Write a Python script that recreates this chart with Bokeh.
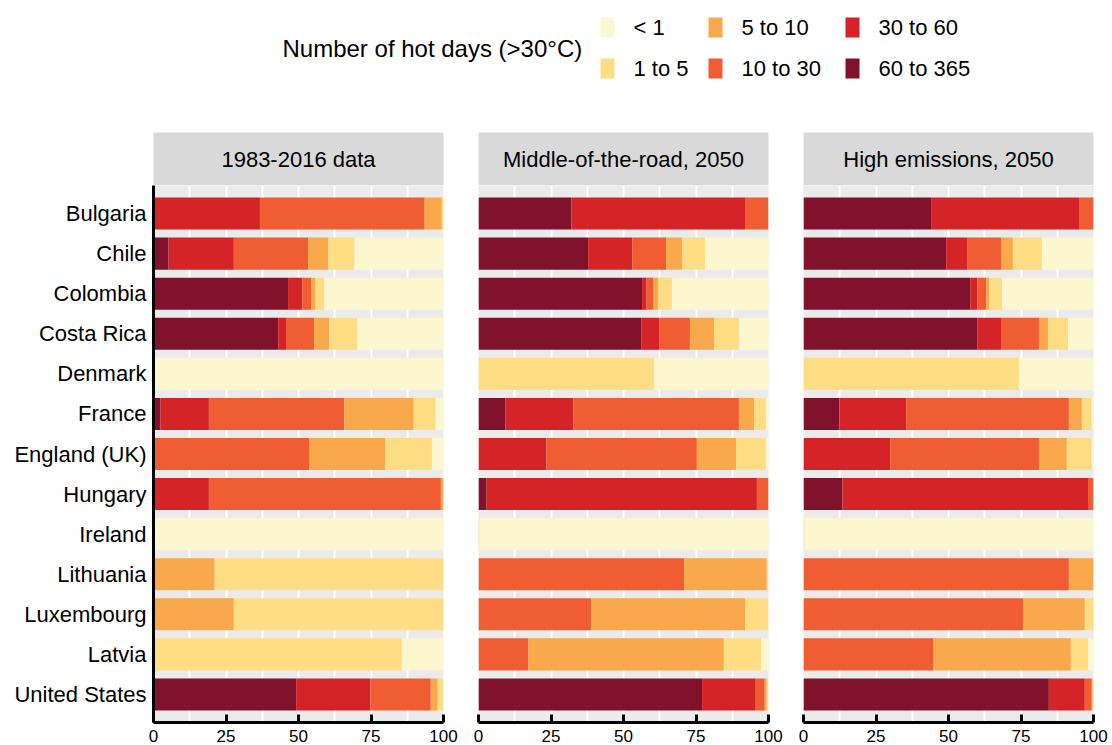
from bokeh.plotting import figure
from bokeh.models import Range1d, FactorRange, FixedTicker, ColumnDataSource
from bokeh.layouts import column, row
from bokeh.core.properties import value
from bokeh.embed import file_html
from bokeh.resources import INLINE

FONT = "Liberation Sans"

countries = ["Bulgaria", "Chile", "Colombia", "Costa Rica", "Denmark", "France",
             "England (UK)", "Hungary", "Ireland", "Lithuania", "Luxembourg",
             "Latvia", "United States"]

# stacking order (left to right)
categories = ["60 to 365", "30 to 60", "10 to 30", "5 to 10", "1 to 5", "< 1"]
colors = ["#80132B", "#D42428", "#F05D33", "#F9A94B", "#FEDD85", "#FCF7CF"]

panel_titles = ["1983-2016 data", "Middle-of-the-road, 2050", "High emissions, 2050"]
legend_title = "Number of hot days (>30\u00b0C)"
x_ticks = [0, 25, 50, 75, 100]
x_minor = [12.5, 37.5, 62.5, 87.5]

# ---- 1983-2016 data (% of population) ----
hist_60_365 = [0, 5.2, 46.4, 43.0, 0, 2.4, 0, 0, 0, 0, 0, 0, 49.2]
hist_30_60 = [36.7, 22.5, 4.9, 2.7, 0, 16.7, 0, 19.1, 0, 0, 0, 0, 25.6]
hist_10_30 = [56.8, 25.6, 3.1, 9.7, 0, 46.7, 53.7, 80.0, 0, 0, 0, 0, 20.8]
hist_5_10 = [5.9, 7.0, 1.4, 5.2, 0, 23.9, 26.3, 0.9, 0, 21.1, 27.7, 0, 2.4]
hist_1_5 = [0.6, 9.0, 3.1, 9.7, 0, 7.6, 16.0, 0, 0, 78.9, 72.3, 85.6, 1.8]
hist_lt1 = [0, 30.7, 41.1, 29.7, 100, 2.7, 4.0, 0, 100, 0, 0, 14.4, 0.2]

# ---- Middle-of-the-road, 2050 ----
mid_60_365 = [32.0, 37.8, 56.4, 56.1, 0, 9.3, 0, 2.8, 0, 0, 0, 0, 77.1]
mid_30_60 = [59.9, 15.2, 1.4, 6.2, 0, 23.4, 23.4, 93.2, 0, 0, 0, 0, 18.5]
mid_10_30 = [8.1, 11.7, 2.4, 10.6, 0, 57.1, 51.9, 4.0, 0, 70.9, 38.9, 17.2, 3.1]
mid_5_10 = [0, 5.5, 1.7, 8.3, 0, 5.2, 13.5, 0, 0, 28.5, 53.0, 67.4, 0.7]
mid_1_5 = [0, 7.9, 4.8, 8.6, 60.6, 4.1, 10.3, 0, 0.3, 0.6, 8.1, 12.8, 0.6]
mid_lt1 = [0, 21.9, 33.3, 10.2, 39.4, 0.9, 0.9, 0, 99.7, 0, 0, 2.6, 0]

# ---- High emissions, 2050 ----
high_60_365 = [44.0, 49.2, 57.5, 59.9, 0, 12.4, 0, 13.4, 0, 0, 0, 0, 84.6]
high_30_60 = [51.0, 7.2, 2.4, 8.2, 0, 23.0, 29.9, 84.7, 0, 0, 0, 0, 12.4]
high_10_30 = [5.0, 11.7, 3.1, 13.1, 0, 56.1, 51.3, 1.9, 0, 91.5, 75.7, 44.7, 2.4]
high_5_10 = [0, 4.1, 1.0, 3.1, 0, 4.5, 9.6, 0, 0, 8.5, 21.3, 47.5, 0.3]
high_1_5 = [0, 10.0, 4.5, 6.9, 74.3, 3.4, 8.6, 0, 0.3, 0, 3.0, 5.9, 0.3]
high_lt1 = [0, 17.8, 31.5, 8.8, 25.7, 0.6, 0.6, 0, 99.7, 0, 0, 1.9, 0]

scenarios = [
    [hist_60_365, hist_30_60, hist_10_30, hist_5_10, hist_1_5, hist_lt1],
    [mid_60_365, mid_30_60, mid_10_30, mid_5_10, mid_1_5, mid_lt1],
    [high_60_365, high_30_60, high_10_30, high_5_10, high_1_5, high_lt1],
]

FRAME_W = 290
FRAME_H = 537
BOTTOM = 23
STRIP_H = 53
TOP_H = 132
borders = [(153, 17), (18, 17), (18, 19)]


def make_panel(vals, ml, mr, show_y):
    data = {"country": countries}
    for c, v in zip(categories, vals):
        data[c] = v
    src = ColumnDataSource(data)
    yr = FactorRange(*reversed(countries), range_padding=0.2, range_padding_units="absolute")
    p = figure(width=ml + FRAME_W + mr, height=FRAME_H + BOTTOM, y_range=yr,
               x_range=Range1d(0, 100), output_backend="svg", toolbar_location=None,
               min_border_left=ml, min_border_right=mr, min_border_top=0,
               min_border_bottom=BOTTOM)
    p.hbar_stack(categories, y="country", height=0.8, fill_color=colors,
                 line_color=None, source=src)
    p.background_fill_color = "#EBEBEB"
    p.border_fill_color = "white"
    p.outline_line_color = None
    p.xaxis.ticker = FixedTicker(ticks=x_ticks, minor_ticks=x_minor)
    p.xaxis.axis_line_width = 3
    p.xaxis.axis_line_color = "black"
    p.xaxis.major_tick_in = 8
    p.xaxis.major_tick_out = 0
    p.xaxis.major_tick_line_width = 3
    p.xaxis.major_tick_line_color = "black"
    p.xaxis.minor_tick_line_color = None
    p.xaxis.major_label_text_font = FONT
    p.xaxis.major_label_text_font_size = "17px"
    p.xaxis.major_label_text_color = "black"
    p.xaxis.major_label_standoff = 3
    p.xgrid.grid_line_color = "white"
    p.xgrid.grid_line_width = 2
    p.xgrid.minor_grid_line_color = "white"
    p.xgrid.minor_grid_line_width = 2
    p.ygrid.grid_line_color = None
    if show_y:
        p.yaxis.axis_line_width = 3
        p.yaxis.axis_line_color = "black"
        p.yaxis.major_tick_line_color = None
        p.yaxis.minor_tick_line_color = None
        p.yaxis.major_label_text_font = FONT
        p.yaxis.major_label_text_font_size = "22px"
        p.yaxis.major_label_text_color = "black"
        p.yaxis.major_label_standoff = 1
    else:
        p.yaxis.visible = False
    return p


def make_strip(title, ml, mr):
    s = figure(width=ml + FRAME_W + mr, height=STRIP_H, x_range=Range1d(0, 100),
               y_range=Range1d(0, 1), x_axis_type=None, y_axis_type=None,
               output_backend="svg", toolbar_location=None,
               min_border_left=ml, min_border_right=mr, min_border_top=0,
               min_border_bottom=0)
    s.background_fill_color = "#D9D9D9"
    s.border_fill_color = "white"
    s.outline_line_color = None
    s.text(x=[50], y=[0.5], text=[title], text_align="center", text_baseline="middle",
           text_font=value(FONT), text_font_size="22px", text_color="black")
    return s


# ---- legend header ----
top = figure(width=1112, height=TOP_H, x_range=Range1d(0, 1112), y_range=Range1d(TOP_H, 0),
             x_axis_type=None, y_axis_type=None, output_backend="svg",
             toolbar_location=None, min_border=0)
top.outline_line_color = None
top.background_fill_color = "white"
top.border_fill_color = "white"
top.text(x=[282], y=[48], text=[legend_title], text_align="left", text_baseline="middle",
         text_font=value(FONT), text_font_size="24px", text_color="black")

legend_order = list(reversed(categories))
legend_colors = list(reversed(colors))
col_x = [600, 708, 845]
kl, kr, kt, kb, lx, ly = [], [], [], [], [], []
for i, lab in enumerate(legend_order):
    c, r = i // 2, i % 2
    x0 = col_x[c]
    yc = 27 + r * 41
    kl.append(x0)
    kr.append(x0 + 14)
    kt.append(yc - 10)
    kb.append(yc + 10)
    lx.append(x0 + 33)
    ly.append(yc)
top.quad(left=kl, right=kr, top=kt, bottom=kb, fill_color=legend_colors, line_color=None)
top.text(x=lx, y=ly, text=legend_order, text_align="left", text_baseline="middle",
         text_font=value(FONT), text_font_size="22px", text_color="black")

strips = [make_strip(t, ml, mr) for t, (ml, mr) in zip(panel_titles, borders)]
panels = [make_panel(v, ml, mr, i == 0) for i, (v, (ml, mr)) in enumerate(zip(scenarios, borders))]

layout = column(top, row(*strips), row(*panels))

open("out.html", "w").write(file_html(layout, INLINE))
